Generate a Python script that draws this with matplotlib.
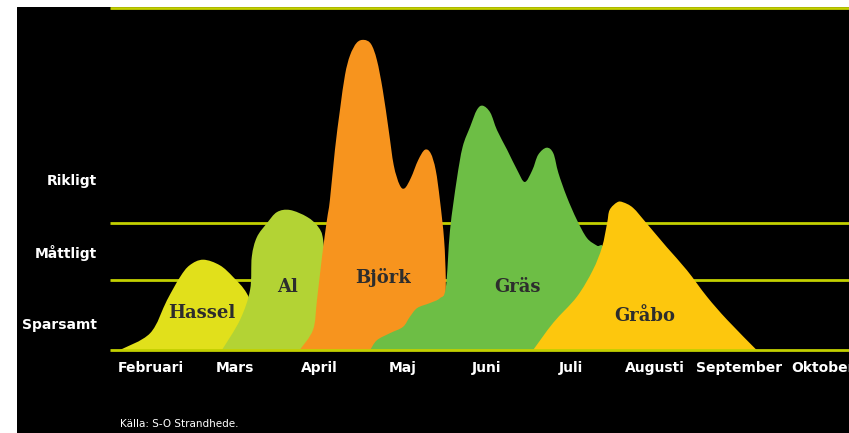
#!/usr/bin/env python3
"""Pollen calendar: flowering season and intensity of common allergy plants."""

import matplotlib

matplotlib.use("Agg")
import matplotlib.pyplot as plt
import numpy as np
from matplotlib.patches import PathPatch
from matplotlib.path import Path

# x in months (0 = Februari), y in intensity level (1 = Sparsamt/Måttligt border)
months = ["Februari", "Mars", "April", "Maj", "Juni", "Juli", "Augusti", "September", "Oktober"]
level_names = ["Sparsamt", "Måttligt", "Rikligt"]
level_label_y = [0.36, 1.39, 2.41]
level_lines = [1.0, 1.81]
top_line = 4.886

hassel_x = [-0.37, -0.01, 0.19, 0.345, 0.46, 0.62, 0.82, 0.98, 1.14, 1.27, 1.36]
hassel_y = [0.0, 0.24, 0.71, 1.04, 1.21, 1.29, 1.21, 1.04, 0.81, 0.43, 0.0]

al_x = [0.845, 1.06, 1.18, 1.20, 1.26, 1.38, 1.50, 1.655, 1.86, 1.99, 2.05, 2.08, 2.11]
al_y = [0.0, 0.43, 0.86, 1.33, 1.61, 1.81, 1.97, 2.0, 1.9, 1.76, 1.57, 1.0, 0.0]

bjork_x = [1.77, 1.93, 1.976, 2.036, 2.095, 2.13, 2.19, 2.25, 2.31, 2.37, 2.45, 2.536,
           2.62, 2.69, 2.76, 2.83, 2.89, 2.96, 3.02, 3.095, 3.18, 3.26, 3.33, 3.39,
           3.44, 3.49, 3.51, 3.51, 3.51]
bjork_y = [0.0, 0.29, 0.71, 1.33, 1.86, 2.14, 2.86, 3.43, 3.93, 4.21, 4.39, 4.43,
           4.37, 4.14, 3.71, 3.14, 2.64, 2.36, 2.31, 2.46, 2.71, 2.86, 2.81, 2.57,
           2.14, 1.57, 1.0, 0.43, 0.0]

gras_x = [2.61, 2.69, 2.845, 3.0, 3.08, 3.17, 3.32, 3.44, 3.51, 3.56, 3.64, 3.71,
          3.80, 3.88, 3.95, 4.04, 4.12, 4.24, 4.36, 4.45, 4.54, 4.61, 4.71, 4.79,
          4.85, 4.95, 5.07, 5.19, 5.31, 5.405, 5.58, 5.70]
gras_y = [0.0, 0.14, 0.24, 0.33, 0.47, 0.6, 0.67, 0.74, 0.89, 1.71, 2.43, 2.9,
          3.19, 3.43, 3.49, 3.39, 3.14, 2.86, 2.57, 2.4, 2.57, 2.79, 2.89, 2.81,
          2.53, 2.19, 1.86, 1.6, 1.49, 1.43, 0.71, 0.0]

grabo_x = [4.55, 4.79, 5.07, 5.26, 5.37, 5.43, 5.46, 5.55, 5.62, 5.74, 5.90, 6.14,
           6.38, 6.62, 6.86, 7.21]
grabo_y = [0.0, 0.39, 0.76, 1.14, 1.47, 1.81, 2.0, 2.11, 2.11, 2.03, 1.81, 1.47,
           1.14, 0.76, 0.43, 0.0]

species = ["Hassel", "Al", "Björk", "Gräs", "Gråbo"]
outlines = [(hassel_x, hassel_y), (al_x, al_y), (bjork_x, bjork_y),
            (gras_x, gras_y), (grabo_x, grabo_y)]
colors = ["#e1e01b", "#b3d334", "#f7941e", "#6dbe45", "#fdc70d"]
label_x = [0.61, 1.63, 2.76, 4.36, 5.88]
label_y = [0.53, 0.90, 1.04, 0.90, 0.49]

LINE = "#c3d000"


def smooth_outline(xs, ys):
    """Closed path through the outline points, joined by Catmull-Rom style Beziers."""
    pts = np.column_stack([xs, ys])
    verts = [pts[0]]
    codes = [Path.MOVETO]
    n = len(pts)
    for i in range(n - 1):
        p0 = pts[max(i - 1, 0)]
        p1 = pts[i]
        p2 = pts[i + 1]
        p3 = pts[min(i + 2, n - 1)]
        verts += [p1 + (p2 - p0) / 6.0, p2 - (p3 - p1) / 6.0, p2]
        codes += [Path.CURVE4] * 3
    verts.append(pts[0])
    codes.append(Path.CLOSEPOLY)
    return Path(verts, codes)


fig = plt.figure(figsize=(8.49, 4.33), dpi=100, facecolor="white")
ax = fig.add_axes([17 / 849, 0, 832 / 849, 426 / 433])
ax.set_facecolor("black")
ax.set_xlim(-1.595, 8.31)
ax.set_ylim(-1.186, 4.9)
ax.set_axis_off()
ax.add_patch(plt.Rectangle((0, 0), 1, 1, transform=ax.transAxes, color="black", zorder=0))

x_start = -0.488
for y in level_lines:
    ax.plot([x_start, 8.4], [y, y], color=LINE, lw=2.0, zorder=1, solid_capstyle="butt")
ax.plot([x_start, 8.4], [top_line, top_line], color=LINE, lw=2.0, zorder=1,
        clip_on=False, solid_capstyle="butt")

for (xs, ys), c in zip(outlines, colors):
    ax.add_patch(PathPatch(smooth_outline(xs, ys), facecolor=c, edgecolor="none", zorder=2))
ax.plot([x_start, 8.4], [0, 0], color=LINE, lw=2.0, zorder=3, solid_capstyle="butt")

for name, x, y in zip(species, label_x, label_y):
    ax.text(x, y, name, ha="center", va="center", fontsize=13, fontweight="bold",
            family="DejaVu Serif", color="#2d2d2d", zorder=4)

for name, y in zip(level_names, level_label_y):
    ax.text(-0.643, y, name, ha="right", va="center", fontsize=10, fontweight="bold",
            color="white")

for i, name in enumerate(months):
    ax.text(i, -0.257, name, ha="center", va="center", fontsize=10, fontweight="bold",
            color="white")

fig.text(120 / 849, 1 - 424 / 433, "Källa: S-O Strandhede.", ha="left", va="center",
         fontsize=7.5, color="white")

fig.savefig("out.png", dpi=100, facecolor="white")
